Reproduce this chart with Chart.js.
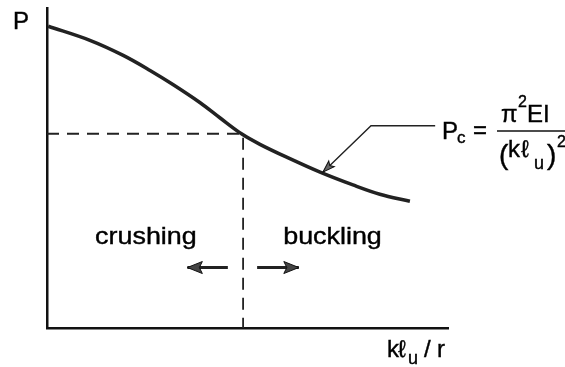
<!DOCTYPE html>
<html>
<head>
<meta charset="utf-8">
<script src="https://cdn.jsdelivr.net/npm/chart.js@4/dist/chart.umd.min.js"></script>
<style>
  body { margin: 0; background: #fff; }
  canvas { display: block; }
</style>
</head>
<body>
<canvas id="chart" width="565" height="367"></canvas>
<script>
// Column strength curve (slenderness kl/r vs load P), arbitrary units 0..100
const slenderness = [0.3, 10.7, 19.0, 25.7, 31.4, 38.2, 43.1, 48.6, 53.1, 59.9, 68.1, 76.3, 83.0, 90.5];
const loadP = [94.3, 89.9, 85.2, 80.5, 76.1, 70.4, 65.7, 60.6, 57.4, 53.3, 48.7, 44.7, 41.8, 39.6];

// dashed guide: from P axis across to the transition point, then down
const critX = [0, 48.9, 48.9];
const critP = [60.7, 60.7, 0];

// leader line from the curve to the Euler formula
const leaderX = [68.8, 80.8, 96.8];
const leaderP = [48.7, 63.2, 63.2];

// crushing / buckling arrows (tail -> tip)
const crushArrowX = [45.1, 35.0];
const buckleArrowX = [52.4, 62.8];
const arrowP = [18.9, 18.9];

const zoneLabels = ['crushing', 'buckling'];

const toPts = (xs, ys) => xs.map((x, i) => ({ x: x, y: ys[i] }));

function arrowHead(ctx, x0, y0, x1, y1, len, half, fill) {
    const a = Math.atan2(y1 - y0, x1 - x0);
    ctx.save();
    ctx.translate(x1, y1);
    ctx.rotate(a);
    ctx.beginPath();
    ctx.moveTo(0, 0);
    ctx.lineTo(-len, -half);
    ctx.lineTo(-len * 0.8, 0);
    ctx.lineTo(-len, half);
    ctx.closePath();
    ctx.fillStyle = fill;
    ctx.strokeStyle = '#111';
    ctx.lineWidth = 1;
    ctx.fill();
    ctx.stroke();
    ctx.restore();
}

function txt(ctx, s, x, y, size, sx) {
    ctx.save();
    ctx.font = size + 'px "Liberation Sans", Arial, sans-serif';
    ctx.fillStyle = '#000';
    ctx.strokeStyle = '#000';
    ctx.lineWidth = 0.4;
    ctx.textBaseline = 'alphabetic';
    ctx.translate(x, y);
    ctx.scale(sx || 1, 1);
    ctx.fillText(s, 0, 0);
    ctx.strokeText(s, 0, 0);
    ctx.restore();
}

const annotations = {
    id: 'annotations',
    afterDatasetsDraw(chart) {
        const ctx = chart.ctx;
        const sx = chart.scales.x, sy = chart.scales.y;
        const px = v => sx.getPixelForValue(v);
        const py = v => sy.getPixelForValue(v);

        // arrowheads
        arrowHead(ctx, px(crushArrowX[0]), py(arrowP[0]), px(crushArrowX[1]), py(arrowP[1]), 15, 6, '#444');
        arrowHead(ctx, px(buckleArrowX[0]), py(arrowP[0]), px(buckleArrowX[1]), py(arrowP[1]), 15, 6, '#444');
        arrowHead(ctx, px(leaderX[1]), py(leaderP[1]), px(leaderX[0]), py(leaderP[0]), 12, 4, '#666');

        // zone labels
        txt(ctx, zoneLabels[0], px(12.0), py(26.1), 24, 1.12);
        txt(ctx, zoneLabels[1], px(58.9), py(26.1), 24, 1.12);

        // axis labels
        txt(ctx, 'P', px(-8.5), py(93.4), 24);
        const tx = px(84.8), ty = py(-9.1);
        txt(ctx, 'k', tx, ty, 24);
        txt(ctx, 'ℓ', tx + 11, ty, 24);
        txt(ctx, 'u', tx + 21, ty + 7, 18);
        txt(ctx, '/', tx + 37, ty, 24);
        txt(ctx, 'r', tx + 50, ty, 24);

        // Euler formula
        const fx = px(98.75), fy = py(59.1);
        txt(ctx, 'P', fx - 1, fy, 24);
        txt(ctx, 'c', fx + 14, fy + 4, 17);
        txt(ctx, '=', fx + 30, fy - 1, 24);
        ctx.save();
        ctx.strokeStyle = '#111';
        ctx.lineWidth = 1.5;
        ctx.beginPath();
        ctx.moveTo(fx + 54, fy - 8);
        ctx.lineTo(fx + 124, fy - 8);
        ctx.stroke();
        ctx.restore();
        txt(ctx, 'π', fx + 58, fy - 17, 24);
        txt(ctx, '2', fx + 75, fy - 32, 16);
        txt(ctx, 'EI', fx + 84, fy - 17, 24);
        txt(ctx, '(', fx + 56, fy + 25, 28);
        txt(ctx, 'k', fx + 65, fy + 18, 24);
        txt(ctx, 'ℓ', fx + 78, fy + 18, 24);
        txt(ctx, 'u', fx + 91, fy + 30, 18);
        txt(ctx, ')', fx + 104, fy + 25, 28);
        txt(ctx, '2', fx + 114, fy + 8, 16);
    }
};

const ctx = document.getElementById('chart').getContext('2d');
const chart = new Chart(ctx, {
    type: 'line',
    data: {
        datasets: [
            {
                data: toPts(slenderness, loadP),
                borderColor: '#222',
                borderWidth: 3.5,
                pointRadius: 0,
                tension: 0.35
            },
            {
                data: toPts(critX, critP),
                borderColor: '#222',
                borderWidth: 1.8,
                borderDash: [12, 8],
                pointRadius: 0,
                tension: 0
            },
            {
                data: toPts(leaderX, leaderP),
                borderColor: '#222',
                borderWidth: 1.4,
                pointRadius: 0,
                tension: 0
            },
            {
                data: toPts(crushArrowX, arrowP),
                borderColor: '#222',
                borderWidth: 3,
                pointRadius: 0
            },
            {
                data: toPts(buckleArrowX, arrowP),
                borderColor: '#222',
                borderWidth: 3,
                pointRadius: 0
            }
        ]
    },
    options: {
        responsive: false,
        animation: false,
        layout: { padding: { top: 8, right: 117, left: 0, bottom: 0 } },
        plugins: {
            legend: { display: false },
            tooltip: { enabled: false }
        },
        scales: {
            x: {
                type: 'linear',
                min: 0,
                max: 100,
                ticks: { display: false },
                grid: { display: false },
                border: { display: true, color: '#111', width: 2.5 },
                afterFit: s => { s.height = 39; }
            },
            y: {
                type: 'linear',
                min: 0,
                max: 100,
                ticks: { display: false },
                grid: { display: false },
                border: { display: true, color: '#111', width: 2.5 },
                afterFit: s => { s.width = 47; }
            }
        }
    },
    plugins: [annotations]
});
</script>
</body>
</html>
